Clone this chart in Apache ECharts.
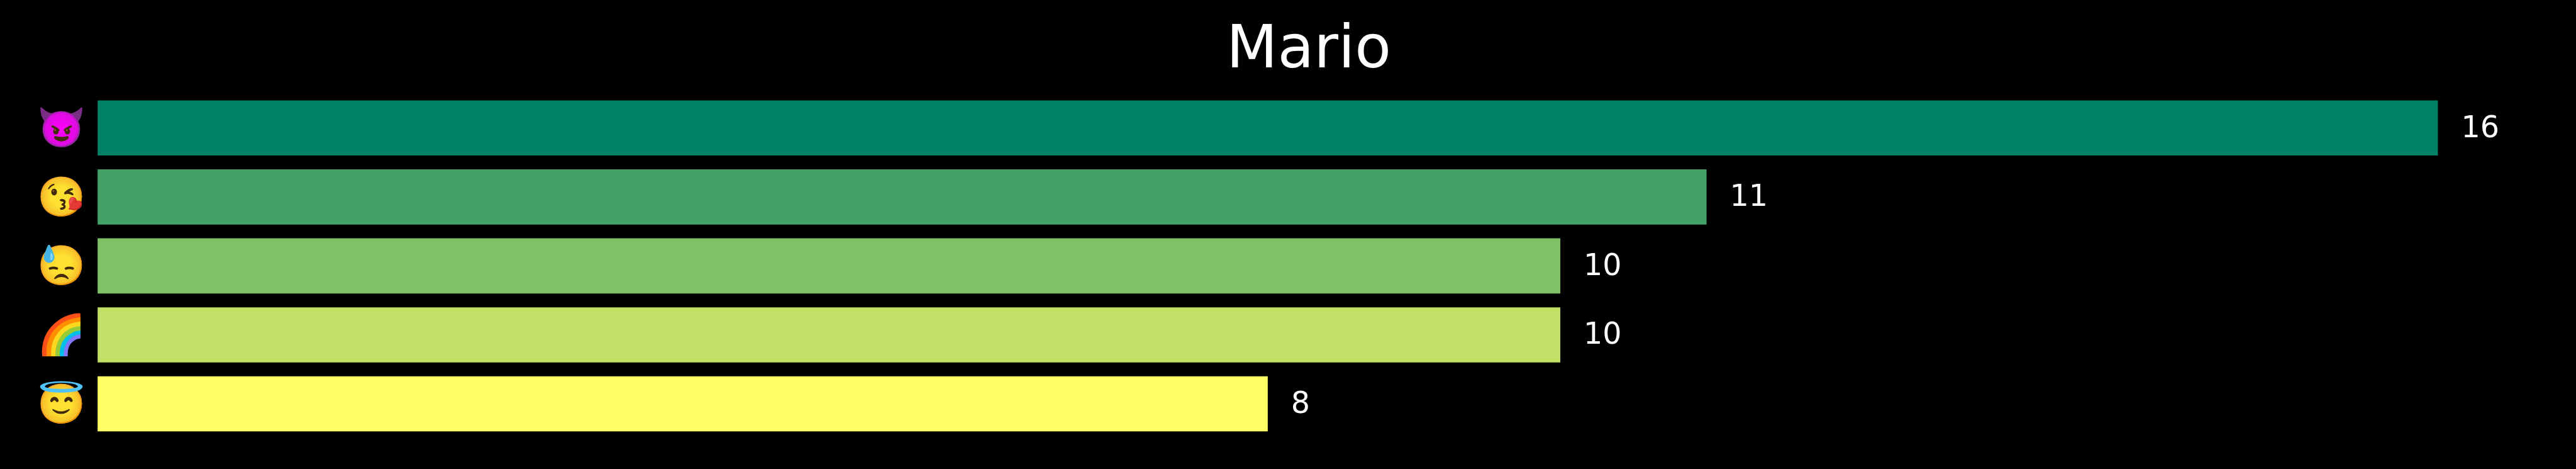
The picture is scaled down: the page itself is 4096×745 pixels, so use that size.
<!DOCTYPE html>
<html><head><meta charset="utf-8">
<style>html,body{margin:0;padding:0;background:#000}#c{width:4096px;height:745px}</style>
<script src="https://cdn.jsdelivr.net/npm/echarts@6/dist/echarts.min.js"></script>
</head><body><div id="c"></div><script>
const titleText = "Mario";
const categories = ["😈","😘","😓","🌈","😇"];
const values = [16,11,10,10,8];
const colors = ["#008066","#43a167","#80c066","#c0e066","#ffff66"];
const F = "DejaVu Sans";
const chart = echarts.init(document.getElementById('c'),null,{renderer:'canvas'});
chart.setOption({
  animation:false,
  backgroundColor:"#000",
  title:{text:titleText,left:2076,top:31,textAlign:'center',textStyle:{color:"#fff",fontFamily:F,fontSize:94.3,fontWeight:'normal'}},
  grid:{left:155.2,top:148.5,width:3853.8,height:547.8},
  xAxis:{type:'value',min:0,max:16.57,show:false},
  yAxis:{type:'category',inverse:true,data:categories,
    axisLine:{show:false},axisTick:{show:false},splitLine:{show:false},
    axisLabel:{color:"#fff",fontSize:62,margin:19,verticalAlign:'top',lineHeight:6,fontFamily:"Noto Color Emoji, DejaVu Sans"}},
  series:[{type:'bar',barWidth:'80%',
    data:values.map((v,i)=>({value:v,itemStyle:{color:colors[i]}})),
    label:{show:true,position:'right',distance:37,offset:[0,2],color:"#fff",fontFamily:F,fontSize:47.5}}]
});
</script></body></html>
